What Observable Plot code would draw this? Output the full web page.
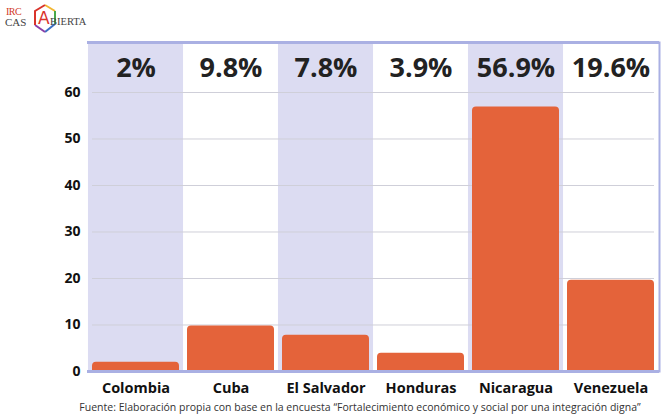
<!DOCTYPE html>
<html>
<head>
<meta charset="utf-8">
<script src="https://cdn.jsdelivr.net/npm/d3@7"></script>
<script src="https://cdn.jsdelivr.net/npm/@observablehq/plot@0.6"></script>
<style>
  html, body { margin: 0; padding: 0; background: #fff; }
  #wrap { position: relative; width: 662px; height: 414px; overflow: hidden; font-family: "Open Sans", sans-serif; }
  #logo { position: absolute; left: 4px; top: 3px; width: 70px; height: 30px; font-family: "Liberation Serif", serif; }
  #logo .irc { position: absolute; left: 2px; top: 3px; font-size: 10px; color: #d23a2a; letter-spacing: -0.5px; }
  #logo .cas { position: absolute; left: 1px; top: 13px; font-size: 11px; color: #444; }
  #logo .abierta { position: absolute; left: 46px; top: 13px; font-size: 10.5px; color: #444; }
  #logo .a { position: absolute; left: 34px; top: 5px; font-size: 17px; color: #d9342b; font-family: "DejaVu Sans", sans-serif; }
  #logo svg { position: absolute; left: 28px; top: 0px; }
  #caption { position: absolute; left: 0; width: 662px; top: 400px; text-align: center; font-size: 10.5px; color: #333; padding-left: 58px; box-sizing: border-box; }
  #chart { position: absolute; left: 0; top: 0; }
</style>
</head>
<body>
<div id="wrap">
  <div id="chart"></div>
  <div id="logo">
    <svg width="26" height="32" viewBox="0 0 26 32">
      <polyline points="13,2 23,8" fill="none" stroke="#f2b631" stroke-width="2"/>
      <polyline points="23,8 23,21" fill="none" stroke="#4aa84a" stroke-width="2"/>
      <polyline points="23,21 13,29" fill="none" stroke="#3b6fc4" stroke-width="2"/>
      <polyline points="13,29 3,22" fill="none" stroke="#8a3fa8" stroke-width="2"/>
      <polyline points="3,22 3,8 13,2" fill="none" stroke="#d9342b" stroke-width="2"/>
    </svg>
    <span class="irc">IRC</span>
    <span class="cas">CAS</span>
    <span class="a">A</span>
    <span class="abierta">BIERTA</span>
  </div>
  <div id="caption">Fuente: Elaboración propia con base en la encuesta “Fortalecimiento económico y social por una integración digna”</div>
</div>
<script>
const countries = ["Colombia", "Cuba", "El Salvador", "Honduras", "Nicaragua", "Venezuela"];
const values = [2, 9.8, 7.8, 3.9, 56.9, 19.6];
const labels = ["2%", "9.8%", "7.8%", "3.9%", "56.9%", "19.6%"];
const shaded = ["Colombia", "El Salvador", "Nicaragua"];
const yTicks = [0, 10, 20, 30, 40, 50, 60];
const yMax = 70.75;

const data = countries.map((c, i) => ({country: c, value: values[i], label: labels[i]}));

const W = 662, H = 396;
const mL = 87, mR = 3;
const step = (W - mL - mR) / 6;
const pIn = 0.085;
const half = step * pIn / 2;

const chart = Plot.plot({
  width: W,
  height: H,
  marginTop: 42,
  marginBottom: 25,
  marginLeft: mL,
  marginRight: mR,
  style: {fontFamily: "Open Sans, sans-serif", background: "transparent", overflow: "visible"},
  x: {domain: countries, paddingInner: pIn, paddingOuter: pIn / 2, label: null},
  y: {domain: [0, yMax], label: null, ticks: yTicks},
  marks: [
    Plot.barY(shaded, {x: d => d, y1: 0, y2: yMax, fill: "#dcdcf2", insetLeft: -half, insetRight: -half}),
    Plot.ruleY(yTicks.filter(t => t > 0), {stroke: "#cfcfd9", strokeWidth: 1, insetLeft: 5, insetRight: 5}),
    Plot.barY(data, {x: "country", y1: -3, y2: "value", fill: "#e4633a", rx: 4, clip: "frame"}),
    Plot.ruleY([0], {stroke: "#aab0e3", strokeWidth: 3}),
    Plot.ruleY([yMax], {stroke: "#aab0e3", strokeWidth: 3}),
    Plot.frame({anchor: "right", stroke: "#aab0e3", strokeWidth: 2}),
    Plot.text(data, {x: "country", y: yMax, text: "label", dy: 26, fontSize: 27, fontWeight: 700, fill: "#222"}),
    Plot.axisY({ticks: yTicks, tickSize: 0, tickPadding: 7, fontSize: 14, fontWeight: 700, fill: "#111", label: null}),
    Plot.axisX({tickSize: 0, tickPadding: 11, fontSize: 14.5, fontWeight: 700, fill: "#111", label: null})
  ]
});
document.getElementById("chart").appendChild(chart);
</script>
</body>
</html>
